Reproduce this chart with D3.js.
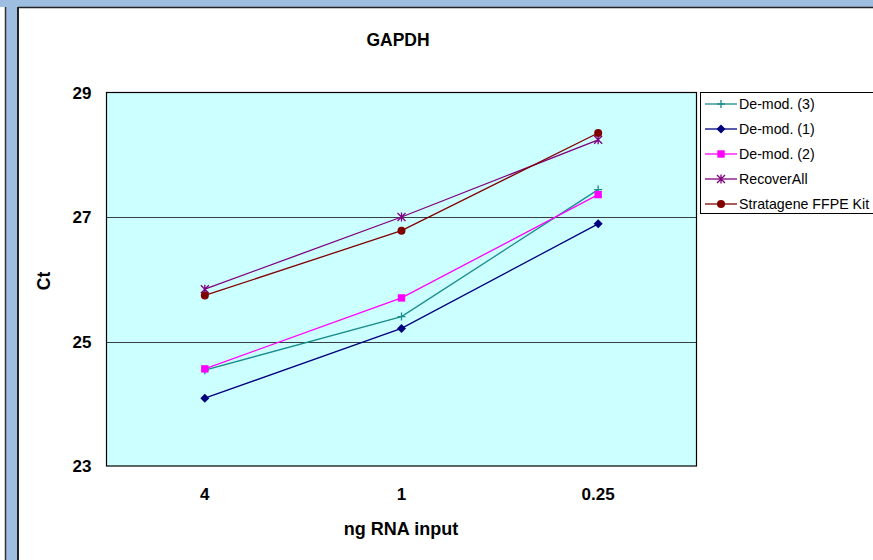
<!DOCTYPE html>
<html><head><meta charset="utf-8">
<script src="https://cdn.jsdelivr.net/npm/d3@7"></script>
<style>body{margin:0;background:#fff}svg{display:block}</style>
</head><body>
<script>
const categories = ["4", "1", "0.25"];
const seriesNames = ["De-mod. (3)", "De-mod. (1)", "De-mod. (2)", "RecoverAll", "Stratagene FFPE Kit"];
const demod3 = [24.54, 25.40, 27.44];
const demod1 = [24.09, 25.21, 26.89];
const demod2 = [24.56, 25.70, 27.36];
const recoverAll = [25.84, 27.00, 28.24];
const stratagene = [25.74, 26.78, 28.35];
const yTicks = [23, 25, 27, 29];
const title = "GAPDH";
const xLabel = "ng RNA input";
const yLabel = "Ct";

const W = 873, H = 560;
const svg = d3.select("body").append("svg").attr("width", W).attr("height", H);
const font = "Arial, 'Liberation Sans', sans-serif";

// window frame
svg.append("rect").attr("x",0).attr("y",0).attr("width",W).attr("height",7).attr("fill","#9dbde1");
svg.append("rect").attr("x",6).attr("y",0).attr("width",12).attr("height",H).attr("fill","#9dbde1");
svg.append("line").attr("x1",5.5).attr("x2",5.5).attr("y1",7).attr("y2",H).attr("stroke","#333").attr("stroke-width",1.5);
svg.append("line").attr("x1",18).attr("x2",18).attr("y1",7).attr("y2",H).attr("stroke","#222").attr("stroke-width",2);
svg.append("line").attr("x1",18).attr("x2",W).attr("y1",7.5).attr("y2",7.5).attr("stroke","#222").attr("stroke-width",1.5);

const plot = {l:106.5, t:92.5, r:696.5, b:466};
const x = d3.scaleBand().domain(categories).range([plot.l, plot.r]);
const y = d3.scaleLinear().domain([23, 29]).range([plot.b, plot.t]);

svg.append("rect").attr("x",plot.l).attr("y",plot.t).attr("width",plot.r-plot.l).attr("height",plot.b-plot.t)
  .attr("fill","#ccffff");

// gridlines
svg.append("g").selectAll("line").data(yTicks.filter(d=>d>23&&d<29)).join("line")
  .attr("x1",plot.l).attr("x2",plot.r).attr("y1",d=>Math.round(y(d))+0.5).attr("y2",d=>Math.round(y(d))+0.5)
  .attr("stroke","#354040").attr("stroke-width",1.2);

svg.append("rect").attr("x",plot.l).attr("y",plot.t).attr("width",plot.r-plot.l).attr("height",plot.b-plot.t)
  .attr("fill","none").attr("stroke","#000").attr("stroke-width",1.2);

// axes via d3 (tick lines hidden)
const yAxis = svg.append("g").attr("transform",`translate(${plot.l},0)`)
  .call(d3.axisLeft(y).tickValues(yTicks).tickSize(0).tickPadding(15).tickFormat(d3.format("d")));
yAxis.select(".domain").remove();
yAxis.selectAll("text").attr("font-family",font).attr("font-size",17).attr("font-weight","bold").attr("fill","#000").attr("dy","0.35em");

const xAxis = svg.append("g").attr("transform",`translate(0,${plot.b})`)
  .call(d3.axisBottom(x).tickSize(0).tickPadding(22));
xAxis.select(".domain").remove();
xAxis.selectAll("text").attr("font-family",font).attr("font-size",17).attr("font-weight","bold").attr("fill","#000");

svg.append("text").attr("x",398).attr("y",46).attr("text-anchor","middle")
  .attr("font-family",font).attr("font-size",17.5).attr("font-weight","bold").text(title);
svg.append("text").attr("x",401).attr("y",535).attr("text-anchor","middle")
  .attr("font-family",font).attr("font-size",18).attr("font-weight","bold").text(xLabel);
svg.append("text").attr("transform","translate(50,281) rotate(-90)").attr("text-anchor","middle")
  .attr("font-family",font).attr("font-size",17.5).attr("font-weight","bold").text(yLabel);

const series = [
  {name:seriesNames[0], values:demod3, color:"#1a8c8c", marker:"plus"},
  {name:seriesNames[1], values:demod1, color:"#00007f", marker:"diamond"},
  {name:seriesNames[2], values:demod2, color:"#ff00ff", marker:"square"},
  {name:seriesNames[3], values:recoverAll, color:"#800080", marker:"star"},
  {name:seriesNames[4], values:stratagene, color:"#800000", marker:"circle"}
];

function drawMarker(g, type, cx, cy, color){
  if(type==="plus"){
    g.append("path").attr("d",`M${cx-4},${cy}H${cx+4}M${cx},${cy-4}V${cy+4}`).attr("stroke",color).attr("stroke-width",1.3).attr("fill","none");
  } else if(type==="diamond"){
    g.append("path").attr("d",`M${cx},${cy-4.5}L${cx+4.5},${cy}L${cx},${cy+4.5}L${cx-4.5},${cy}Z`).attr("fill",color);
  } else if(type==="square"){
    g.append("rect").attr("x",cx-3.7).attr("y",cy-3.7).attr("width",7.4).attr("height",7.4).attr("fill",color);
  } else if(type==="star"){
    g.append("path").attr("d",`M${cx-4},${cy-4}L${cx+4},${cy+4}M${cx+4},${cy-4}L${cx-4},${cy+4}M${cx},${cy-4.5}V${cy+4.5}`).attr("stroke",color).attr("stroke-width",1.3).attr("fill","none");
  } else if(type==="circle"){
    g.append("circle").attr("cx",cx).attr("cy",cy).attr("r",4).attr("fill",color);
  }
}

const line = d3.line().x((d,i)=>x(categories[i])+x.bandwidth()/2).y(d=>y(d));
const sg = svg.append("g");
series.forEach(s=>{
  sg.append("path").datum(s.values).attr("d",line).attr("fill","none").attr("stroke",s.color).attr("stroke-width",1.3);
});
series.forEach(s=>{
  s.values.forEach((v,i)=>drawMarker(sg, s.marker, x(categories[i])+x.bandwidth()/2, y(v), s.color));
});

// legend
const lg = svg.append("g");
lg.append("rect").attr("x",700.5).attr("y",92.5).attr("width",190).attr("height",121).attr("fill","#fff").attr("stroke","#000").attr("stroke-width",1);
series.forEach((s,i)=>{
  const ly = 104 + i*25;
  lg.append("line").attr("x1",705).attr("x2",737).attr("y1",ly).attr("y2",ly).attr("stroke",s.color).attr("stroke-width",1.3);
  drawMarker(lg, s.marker, 721, ly, s.color);
  lg.append("text").attr("x",739).attr("y",ly).attr("dy","0.35em").attr("font-family",font).attr("font-size",14.2).attr("fill","#000").text(s.name);
});
</script>
</body></html>
